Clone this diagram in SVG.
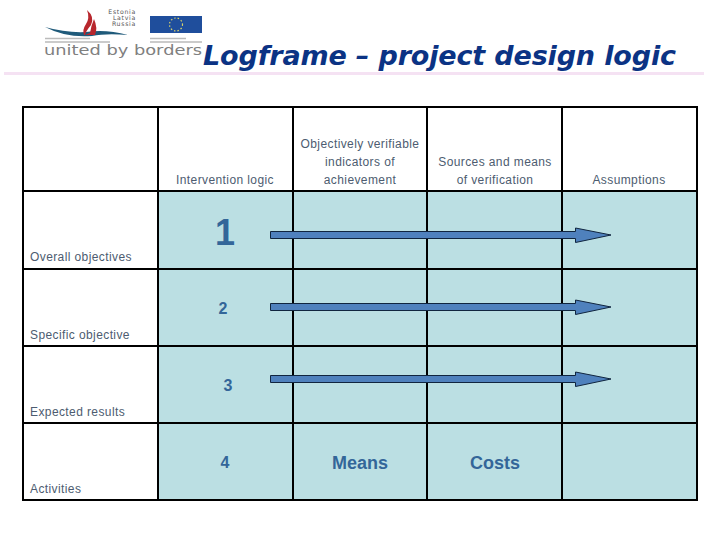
<svg xmlns="http://www.w3.org/2000/svg" width="720" height="540" viewBox="0 0 720 540">
<style>
.t{font-family:"Liberation Sans",Arial,sans-serif;font-size:12px;fill:#4d5c70;letter-spacing:.4px}
.m{text-anchor:middle}
.n{font-family:"Liberation Sans",Arial,sans-serif;font-weight:bold;fill:#336699;text-anchor:middle}
.b{fill:#bbdfe3;stroke:none}
.g{stroke:#000;stroke-width:2;fill:none}
.a{fill:#4f81bd;stroke:#10253f;stroke-width:1}
.l{font-family:"DejaVu Sans",sans-serif;fill:#555}
</style>
<rect width="720" height="540" fill="#fff"/>
<g id="header-rule"><rect x="4" y="72" width="700" height="3" fill="#f5e2f3"/></g>
<g id="logo">
<path d="M45 27 Q66 33 86 32 Q106 29 128 35 Q106 33 92 36 Q66 38 45 27Z" fill="#1f5a7a"/>
<path d="M87 10 Q95 17 91 25 Q86 31 85 35 L90 33 Q91 26 94 19 Q98 28 95 35 L84 35 Q82 30 86 24 Q90 18 87 10Z" fill="#b8272d"/>
<text class="l" x="136" y="13.500" font-size="6.200" text-anchor="end" letter-spacing=".7">Estonia</text>
<text class="l" x="136" y="19.800" font-size="6.200" text-anchor="end" letter-spacing=".7">Latvia</text>
<text class="l" x="136" y="26" font-size="6.200" text-anchor="end" letter-spacing=".7">Russia</text>
<rect x="150" y="16" width="52" height="17" fill="#1f4e9c"/>
<circle cx="176" cy="24.500" r="6.500" fill="none" stroke="#d9d36a" stroke-width="1.200" stroke-dasharray="1.500 2"/>
<path d="M45 38.500H90M45 42H110M150 38.500H186M150 42H202" stroke="#bbb" stroke-width="1.500" fill="none"/>
<text class="l" x="44" y="55" font-size="14.500" style="fill:#808080" textLength="158" lengthAdjust="spacingAndGlyphs">united by borders</text>
</g>
<g id="title"><text x="203" y="65" font-family="'DejaVu Sans',sans-serif" font-weight="bold" font-style="italic" font-size="27" fill="#0b3384" textLength="473" lengthAdjust="spacing">Logframe – project design logic</text></g>
<g id="grid">
<rect class="b" x="158" y="191" width="539" height="309"/>
<path class="g" d="M23 107H697V500H23ZM158 107V500M293 107V500M427 107V500M562 107V500M23 191H697M23 269H697M23 346H697M23 423H697"/>
</g>
<g id="headers">
<text class="t m" x="225" y="184">Intervention logic</text>
<text class="t m" x="360" y="148">Objectively verifiable</text>
<text class="t m" x="360" y="166">indicators of</text>
<text class="t m" x="360" y="184">achievement</text>
<text class="t m" x="495" y="166">Sources and means</text>
<text class="t m" x="495" y="184">of verification</text>
<text class="t m" x="629" y="184">Assumptions</text>
</g>
<g id="rows">
<text class="t" x="30" y="261">Overall objectives</text>
<text class="t" x="30" y="339">Specific objective</text>
<text class="t" x="30" y="416">Expected results</text>
<text class="t" x="30" y="493">Activities</text>
</g>
<g id="cells">
<text class="n" x="225" y="245" font-size="36">1</text>
<text class="n" x="223" y="314" font-size="16">2</text>
<text class="n" x="228" y="391" font-size="16">3</text>
<text class="n" x="225" y="468" font-size="16">4</text>
<text class="n" x="360" y="468.500" font-size="18">Means</text>
<text class="n" x="495" y="468.500" font-size="18">Costs</text>
</g>
<g id="connectors">
<path class="a" d="M270.500 231.500H575.500V228L611 235 575.500 242.500V238.500H270.500Z"/>
<path class="a" d="M270.500 303.500H575.500V300L611 307 575.500 314.500V310.500H270.500Z"/>
<path class="a" d="M270.500 375.500H575.500V372L611 379 575.500 386.500V382.500H270.500Z"/>
</g>
</svg>
